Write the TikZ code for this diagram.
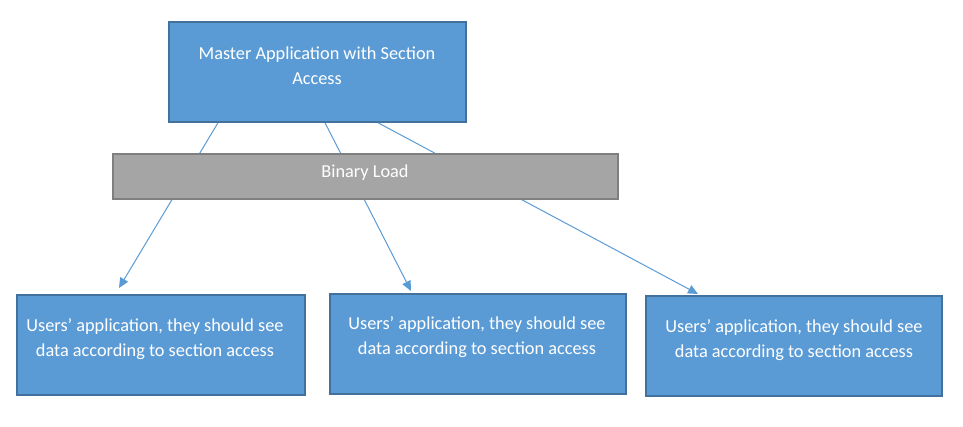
\documentclass[tikz,border=0pt]{standalone}
\usepackage{fontspec}
\setmainfont{Carlito}
\usetikzlibrary{arrows.meta}
\definecolor{boxblue}{HTML}{5B9BD5}
\definecolor{boxedge}{HTML}{41719C}
\definecolor{loadgray}{HTML}{A5A5A5}
\definecolor{loadedge}{HTML}{7F7F7F}
\tikzset{
  bluebox/.style={draw=boxedge, line width=1.5pt, fill=boxblue, rectangle, inner sep=0pt},
  graybox/.style={draw=loadedge, line width=2pt, fill=loadgray, rectangle, inner sep=0pt},
  boxtext/.style={text=white, align=center, font=\fontsize{18.3pt}{25pt}\selectfont, inner sep=0pt},
  conn/.style={draw=boxblue, line width=1pt, -{Triangle[length=10pt,width=9pt]}}
}
\begin{document}
\begin{tikzpicture}[x=1pt,y=-1pt]
\useasboundingbox (0,0) rectangle (963,427);
% master
\node[bluebox, minimum width=297pt, minimum height=100pt] (master) at (317.5,72) {};
\node[boxtext] (mastertext) at (317,65.5) {Master Application with Section\\Access};
% users
\node[bluebox, minimum width=288pt, minimum height=100pt] (u1) at (161,345) {};
\node[boxtext] (u1text) at (155,339.5) {Users’ application, they should see\\data according to section access};
\node[bluebox, minimum width=296pt, minimum height=100pt] (u2) at (478,344) {};
\node[boxtext] (u2text) at (477,337.5) {Users’ application, they should see\\data according to section access};
\node[bluebox, minimum width=296pt, minimum height=100pt] (u3) at (794,346) {};
\node[boxtext] (u3text) at (794,340.5) {Users’ application, they should see\\data according to section access};
% connector endpoints
\coordinate (s1) at (218,122.75);
\coordinate (s2) at (325,122.75);
\coordinate (s3) at (378,122.75);
\coordinate (t1) at (119,288);
\coordinate (t2) at (411,291);
\coordinate (t3) at (698,294);
\draw[conn] (s1) -- (t1);
\draw[conn] (s2) -- (t2);
\draw[conn] (s3) -- (t3);
% binary load on top
\node[graybox, minimum width=505pt, minimum height=45pt] (load) at (365.5,176.5) {};
\node[boxtext] (loadtext) at (365,172.5) {Binary Load};
\end{tikzpicture}
\end{document}
